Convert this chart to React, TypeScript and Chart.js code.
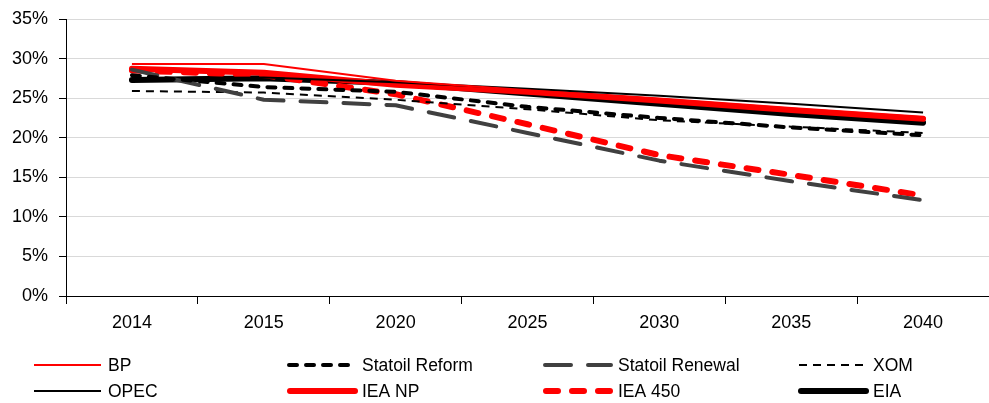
import React, { useEffect, useRef } from "react";
import { Chart, registerables } from "chart.js";

Chart.register(...registerables);

// Share of oil in primary energy, by outlook
const years = ["2014", "2015", "2020", "2025", "2030", "2035", "2040"];
const bp = [29.3, 29.3, 27.2, 26.0, 24.9, 23.7, 22.6];
const statoilReform = [27.9, 26.4, 25.8, 23.9, 22.5, 21.3, 20.3];
const statoilRenewal = [28.6, 24.8, 24.1, 20.6, 17.1, 14.5, 12.1];
const xom = [25.9, 25.7, 24.8, 23.6, 22.2, 21.4, 20.6];
const opec = [27.5, 27.6, 27.0, 26.2, 25.3, 24.3, 23.2];
const ieaNp = [28.7, 28.2, 26.7, 25.8, 24.7, 23.5, 22.4];
const iea450 = [28.5, 27.9, 25.5, 21.7, 17.8, 15.3, 12.7];
const eia = [27.3, 27.5, 26.9, 25.6, 24.3, 23.0, 21.9];

const yTicks = [0, 5, 10, 15, 20, 25, 30, 35];

const FONT = "'Liberation Sans', Arial, sans-serif";

// Draws the two-row, four-column key under the plot
const gridLegend = {
  id: "gridLegend",
  afterDraw(chart: any) {
    const ctx = chart.ctx;
    const colX = [33, 287, 543, 798];
    const rowY = [365, 391];
    const sample = 68;
    chart.data.datasets.forEach((ds: any, i: number) => {
      const x = colX[i % 4];
      const y = rowY[Math.floor(i / 4)];
      ctx.save();
      ctx.strokeStyle = ds.borderColor;
      ctx.lineWidth = ds.borderWidth;
      ctx.lineCap = ds.borderCapStyle || "butt";
      ctx.setLineDash(ds.borderDash || []);
      ctx.beginPath();
      ctx.moveTo(x + ds.borderWidth / 2, y);
      ctx.lineTo(x + sample, y);
      ctx.stroke();
      ctx.setLineDash([]);
      ctx.fillStyle = "#000";
      ctx.font = `17.5px ${FONT}`;
      ctx.textBaseline = "middle";
      ctx.textAlign = "left";
      ctx.fillText(ds.label, x + 75, y + 1);
      ctx.restore();
    });
  },
};

export default function App() {
  const ref = useRef<HTMLCanvasElement>(null);

  useEffect(() => {
    if (!ref.current) return;
    const line = (
      label: string,
      data: number[],
      color: string,
      width: number,
      dash: number[] = [],
      cap: string = "butt"
    ) => ({
      label,
      data,
      borderColor: color,
      backgroundColor: color,
      borderWidth: width,
      borderDash: dash,
      borderCapStyle: cap,
      borderJoinStyle: "round",
      pointRadius: 0,
      pointHoverRadius: 0,
      tension: 0,
      fill: false,
    });

    const chart = new Chart(ref.current, {
      type: "line",
      data: {
        labels: years,
        datasets: [
          line("BP", bp, "#ff0000", 2),
          line("Statoil Reform", statoilReform, "#000000", 4, [8, 9], "round"),
          line("Statoil Renewal", statoilRenewal, "#404040", 4, [26, 17], "round"),
          line("XOM", xom, "#000000", 2, [8, 6]),
          line("OPEC", opec, "#000000", 2),
          line("IEA NP", ieaNp, "#ff0000", 6, [], "round"),
          line("IEA 450", iea450, "#ff0000", 6, [12, 14], "round"),
          line("EIA", eia, "#000000", 6, [], "round"),
        ] as any,
      },
      options: {
        responsive: false,
        animation: false,
        events: [],
        layout: { padding: { top: 0, right: 0, bottom: 67, left: 0 } },
        plugins: {
          legend: { display: false },
          tooltip: { enabled: false },
          title: { display: false },
        },
        scales: {
          x: {
            offset: true,
            afterFit: (s: any) => {
              s.height = 40;
            },
            grid: {
              display: true,
              offset: true,
              drawOnChartArea: false,
              tickLength: 8,
              tickColor: "#000",
              tickWidth: 1,
            },
            border: { display: true, color: "#000", width: 1 },
            ticks: {
              color: "#000",
              font: { family: FONT, size: 18 },
              padding: 8,
              maxRotation: 0,
            },
          },
          y: {
            min: 0,
            max: 35,
            afterFit: (s: any) => {
              s.width = 66;
              s.paddingTop = 19;
              s.paddingBottom = 0;
            },
            afterBuildTicks: (s: any) => {
              s.ticks = yTicks.map((v) => ({ value: v }));
            },
            grid: {
              color: "#d9d9d9",
              lineWidth: 1,
              tickLength: 7,
              tickColor: "#000",
            },
            border: { display: true, color: "#000", width: 1 },
            ticks: {
              color: "#000",
              font: { family: FONT, size: 18 },
              padding: 11,
              callback: (v: any) => `${v}%`,
            },
          },
        },
      },
      plugins: [gridLegend],
    });
    return () => chart.destroy();
  }, []);

  return (
    <div
      style={{
        position: "fixed",
        left: 0,
        top: 0,
        width: 989,
        height: 403,
        background: "#fff",
      }}
    >
      <canvas ref={ref} width={989} height={403} />
    </div>
  );
}
